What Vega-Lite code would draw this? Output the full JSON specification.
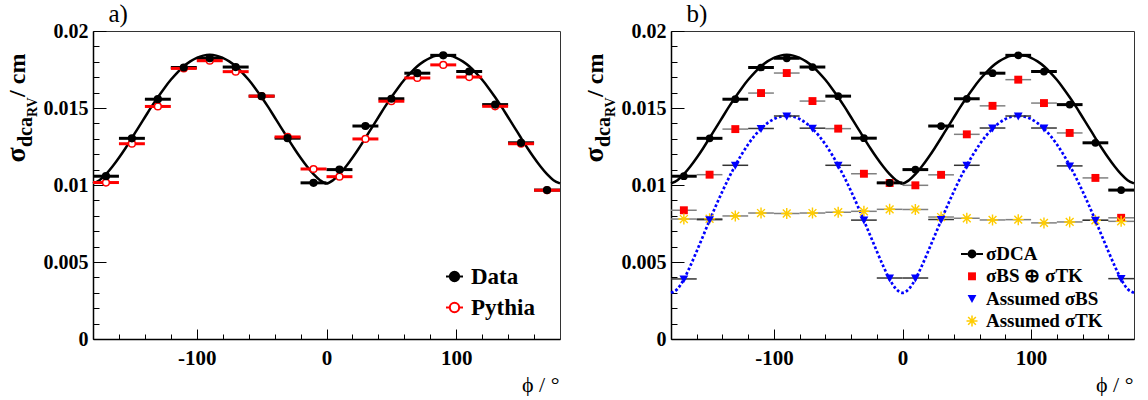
{
  "$schema": "https://vega.github.io/schema/vega-lite/v6.json",
  "padding": {"left": 1, "top": 0, "right": 0, "bottom": 0},
  "spacing": 13,
  "datasets": {
    "dat": [
      {"phi": -170, "lo": -180, "hi": -160, "v": 0.01057},
      {"phi": -150, "lo": -160, "hi": -140, "v": 0.01303},
      {"phi": -130, "lo": -140, "hi": -120, "v": 0.01557},
      {"phi": -110, "lo": -120, "hi": -100, "v": 0.01763},
      {"phi": -90, "lo": -100, "hi": -80, "v": 0.01823},
      {"phi": -70, "lo": -80, "hi": -60, "v": 0.01766},
      {"phi": -50, "lo": -60, "hi": -40, "v": 0.01577},
      {"phi": -30, "lo": -40, "hi": -20, "v": 0.01304},
      {"phi": -10, "lo": -20, "hi": 0, "v": 0.01014},
      {"phi": 10, "lo": 0, "hi": 20, "v": 0.01100},
      {"phi": 30, "lo": 20, "hi": 40, "v": 0.01383},
      {"phi": 50, "lo": 40, "hi": 60, "v": 0.01560},
      {"phi": 70, "lo": 60, "hi": 80, "v": 0.01726},
      {"phi": 90, "lo": 80, "hi": 100, "v": 0.01842},
      {"phi": 110, "lo": 100, "hi": 120, "v": 0.01737},
      {"phi": 130, "lo": 120, "hi": 140, "v": 0.01522},
      {"phi": 150, "lo": 140, "hi": 160, "v": 0.01274},
      {"phi": 170, "lo": 160, "hi": 180, "v": 0.00967}
    ],
    "pyt": [
      {"phi": -170, "lo": -180, "hi": -160, "v": 0.01016},
      {"phi": -150, "lo": -160, "hi": -140, "v": 0.01268},
      {"phi": -130, "lo": -140, "hi": -120, "v": 0.01510},
      {"phi": -110, "lo": -120, "hi": -100, "v": 0.01757},
      {"phi": -90, "lo": -100, "hi": -80, "v": 0.01807},
      {"phi": -70, "lo": -80, "hi": -60, "v": 0.01736},
      {"phi": -50, "lo": -60, "hi": -40, "v": 0.01577},
      {"phi": -30, "lo": -40, "hi": -20, "v": 0.01312},
      {"phi": -10, "lo": -20, "hi": 0, "v": 0.01104},
      {"phi": 10, "lo": 0, "hi": 20, "v": 0.01054},
      {"phi": 30, "lo": 20, "hi": 40, "v": 0.01299},
      {"phi": 50, "lo": 40, "hi": 60, "v": 0.01544},
      {"phi": 70, "lo": 60, "hi": 80, "v": 0.01695},
      {"phi": 90, "lo": 80, "hi": 100, "v": 0.01780},
      {"phi": 110, "lo": 100, "hi": 120, "v": 0.01701},
      {"phi": 130, "lo": 120, "hi": 140, "v": 0.01511},
      {"phi": 150, "lo": 140, "hi": 160, "v": 0.01268},
      {"phi": 170, "lo": 160, "hi": 180, "v": 0.00966}
    ],
    "sum": [
      {"phi": -170, "lo": -180, "hi": -160, "v": 0.00836},
      {"phi": -150, "lo": -160, "hi": -140, "v": 0.01067},
      {"phi": -130, "lo": -140, "hi": -120, "v": 0.01363},
      {"phi": -110, "lo": -120, "hi": -100, "v": 0.01597},
      {"phi": -90, "lo": -100, "hi": -80, "v": 0.01727},
      {"phi": -70, "lo": -80, "hi": -60, "v": 0.01545},
      {"phi": -50, "lo": -60, "hi": -40, "v": 0.01366},
      {"phi": -30, "lo": -40, "hi": -20, "v": 0.01073},
      {"phi": -10, "lo": -20, "hi": 0, "v": 0.01013},
      {"phi": 10, "lo": 0, "hi": 20, "v": 0.00998},
      {"phi": 30, "lo": 20, "hi": 40, "v": 0.01066},
      {"phi": 50, "lo": 40, "hi": 60, "v": 0.01329},
      {"phi": 70, "lo": 60, "hi": 80, "v": 0.01514},
      {"phi": 90, "lo": 80, "hi": 100, "v": 0.01684},
      {"phi": 110, "lo": 100, "hi": 120, "v": 0.01532},
      {"phi": 130, "lo": 120, "hi": 140, "v": 0.01338},
      {"phi": 150, "lo": 140, "hi": 160, "v": 0.01046},
      {"phi": 170, "lo": 160, "hi": 180, "v": 0.00787}
    ],
    "bs": [
      {"phi": -170, "lo": -180, "hi": -160, "v": 0.00390},
      {"phi": -150, "lo": -160, "hi": -140, "v": 0.00775},
      {"phi": -130, "lo": -140, "hi": -120, "v": 0.01128},
      {"phi": -110, "lo": -120, "hi": -100, "v": 0.01367},
      {"phi": -90, "lo": -100, "hi": -80, "v": 0.01448},
      {"phi": -70, "lo": -80, "hi": -60, "v": 0.01369},
      {"phi": -50, "lo": -60, "hi": -40, "v": 0.01128},
      {"phi": -30, "lo": -40, "hi": -20, "v": 0.00772},
      {"phi": -10, "lo": -20, "hi": 0, "v": 0.00396},
      {"phi": 10, "lo": 0, "hi": 20, "v": 0.00396},
      {"phi": 30, "lo": 20, "hi": 40, "v": 0.00776},
      {"phi": 50, "lo": 40, "hi": 60, "v": 0.01128},
      {"phi": 70, "lo": 60, "hi": 80, "v": 0.01370},
      {"phi": 90, "lo": 80, "hi": 100, "v": 0.01448},
      {"phi": 110, "lo": 100, "hi": 120, "v": 0.01370},
      {"phi": 130, "lo": 120, "hi": 140, "v": 0.01124},
      {"phi": 150, "lo": 140, "hi": 160, "v": 0.00771},
      {"phi": 170, "lo": 160, "hi": 180, "v": 0.00392}
    ],
    "tk": [
      {"phi": -170, "lo": -180, "hi": -160, "v": 0.00779},
      {"phi": -150, "lo": -160, "hi": -140, "v": 0.00781},
      {"phi": -130, "lo": -140, "hi": -120, "v": 0.00799},
      {"phi": -110, "lo": -120, "hi": -100, "v": 0.00818},
      {"phi": -90, "lo": -100, "hi": -80, "v": 0.00815},
      {"phi": -70, "lo": -80, "hi": -60, "v": 0.00818},
      {"phi": -50, "lo": -60, "hi": -40, "v": 0.00823},
      {"phi": -30, "lo": -40, "hi": -20, "v": 0.00829},
      {"phi": -10, "lo": -20, "hi": 0, "v": 0.00842},
      {"phi": 10, "lo": 0, "hi": 20, "v": 0.00841},
      {"phi": 30, "lo": 20, "hi": 40, "v": 0.00792},
      {"phi": 50, "lo": 40, "hi": 60, "v": 0.00784},
      {"phi": 70, "lo": 60, "hi": 80, "v": 0.00773},
      {"phi": 90, "lo": 80, "hi": 100, "v": 0.00775},
      {"phi": 110, "lo": 100, "hi": 120, "v": 0.00754},
      {"phi": 130, "lo": 120, "hi": 140, "v": 0.00760},
      {"phi": 150, "lo": 140, "hi": 160, "v": 0.00771},
      {"phi": 170, "lo": 160, "hi": 180, "v": 0.00764}
    ],
    "fits": [
      {"phi": -180, "f": 0.0101, "b": 0.003},
      {"phi": -175, "f": 0.01031, "b": 0.003245},
      {"phi": -170, "f": 0.0107, "b": 0.003881},
      {"phi": -165, "f": 0.0112, "b": 0.00474},
      {"phi": -160, "f": 0.01177, "b": 0.005703},
      {"phi": -155, "f": 0.01239, "b": 0.006702},
      {"phi": -150, "f": 0.01305, "b": 0.007699},
      {"phi": -145, "f": 0.01373, "b": 0.008669},
      {"phi": -140, "f": 0.0144, "b": 0.009596},
      {"phi": -135, "f": 0.01507, "b": 0.010466},
      {"phi": -130, "f": 0.0157, "b": 0.011269},
      {"phi": -125, "f": 0.01629, "b": 0.011997},
      {"phi": -120, "f": 0.01683, "b": 0.012641},
      {"phi": -115, "f": 0.0173, "b": 0.013197},
      {"phi": -110, "f": 0.01771, "b": 0.013658},
      {"phi": -105, "f": 0.01803, "b": 0.014022},
      {"phi": -100, "f": 0.01826, "b": 0.014283},
      {"phi": -95, "f": 0.0184, "b": 0.014441},
      {"phi": -90, "f": 0.01845, "b": 0.014494},
      {"phi": -85, "f": 0.0184, "b": 0.014441},
      {"phi": -80, "f": 0.01826, "b": 0.014283},
      {"phi": -75, "f": 0.01803, "b": 0.014022},
      {"phi": -70, "f": 0.01771, "b": 0.013658},
      {"phi": -65, "f": 0.0173, "b": 0.013197},
      {"phi": -60, "f": 0.01683, "b": 0.012641},
      {"phi": -55, "f": 0.01629, "b": 0.011997},
      {"phi": -50, "f": 0.0157, "b": 0.011269},
      {"phi": -45, "f": 0.01507, "b": 0.010466},
      {"phi": -40, "f": 0.0144, "b": 0.009596},
      {"phi": -35, "f": 0.01373, "b": 0.008669},
      {"phi": -30, "f": 0.01305, "b": 0.007699},
      {"phi": -25, "f": 0.01239, "b": 0.006702},
      {"phi": -20, "f": 0.01177, "b": 0.005703},
      {"phi": -15, "f": 0.0112, "b": 0.00474},
      {"phi": -10, "f": 0.0107, "b": 0.003881},
      {"phi": -5, "f": 0.01031, "b": 0.003245},
      {"phi": 0, "f": 0.0101, "b": 0.003},
      {"phi": 5, "f": 0.01031, "b": 0.003245},
      {"phi": 10, "f": 0.0107, "b": 0.003881},
      {"phi": 15, "f": 0.0112, "b": 0.00474},
      {"phi": 20, "f": 0.01177, "b": 0.005703},
      {"phi": 25, "f": 0.01239, "b": 0.006702},
      {"phi": 30, "f": 0.01305, "b": 0.007699},
      {"phi": 35, "f": 0.01373, "b": 0.008669},
      {"phi": 40, "f": 0.0144, "b": 0.009596},
      {"phi": 45, "f": 0.01507, "b": 0.010466},
      {"phi": 50, "f": 0.0157, "b": 0.011269},
      {"phi": 55, "f": 0.01629, "b": 0.011997},
      {"phi": 60, "f": 0.01683, "b": 0.012641},
      {"phi": 65, "f": 0.0173, "b": 0.013197},
      {"phi": 70, "f": 0.01771, "b": 0.013658},
      {"phi": 75, "f": 0.01803, "b": 0.014022},
      {"phi": 80, "f": 0.01826, "b": 0.014283},
      {"phi": 85, "f": 0.0184, "b": 0.014441},
      {"phi": 90, "f": 0.01845, "b": 0.014494},
      {"phi": 95, "f": 0.0184, "b": 0.014441},
      {"phi": 100, "f": 0.01826, "b": 0.014283},
      {"phi": 105, "f": 0.01803, "b": 0.014022},
      {"phi": 110, "f": 0.01771, "b": 0.013658},
      {"phi": 115, "f": 0.0173, "b": 0.013197},
      {"phi": 120, "f": 0.01683, "b": 0.012641},
      {"phi": 125, "f": 0.01629, "b": 0.011997},
      {"phi": 130, "f": 0.0157, "b": 0.011269},
      {"phi": 135, "f": 0.01507, "b": 0.010466},
      {"phi": 140, "f": 0.0144, "b": 0.009596},
      {"phi": 145, "f": 0.01373, "b": 0.008669},
      {"phi": 150, "f": 0.01305, "b": 0.007699},
      {"phi": 155, "f": 0.01239, "b": 0.006702},
      {"phi": 160, "f": 0.01177, "b": 0.005703},
      {"phi": 165, "f": 0.0112, "b": 0.00474},
      {"phi": 170, "f": 0.0107, "b": 0.003881},
      {"phi": 175, "f": 0.01031, "b": 0.003245},
      {"phi": 180, "f": 0.0101, "b": 0.003}
    ]
  },
  "hconcat": [
    {
      "width": 467,
      "height": 308,
      "resolve": {"axis": {"x": "independent", "y": "independent"}},
      "layer": [
        {
          "data": {"name": "fits"},
          "mark": {"type": "line", "color": "black", "strokeWidth": 2.5, "interpolate": "monotone"},
          "encoding": {
            "x": {"field": "phi", "type": "quantitative", "scale": {"domain": [-180, 180], "nice": false, "zero": false},
              "axis": {"orient": "bottom", "values": [-100, 0, 100], "labelExpr": "'' + datum.value", "tickSize": -10,
                "labelPadding": 18, "labelFontSize": 21, "labelFlush": false, "domainWidth": 1.5,
                "title": "ϕ / °", "titleX": 466, "titleY": 52, "titleAlign": "right", "titleBaseline": "alphabetic", "titleAngle": 0, "titleFontSize": 22, "titleFontWeight": "normal"}},
            "y": {"field": "f", "type": "quantitative", "scale": {"domain": [0, 0.02], "nice": false},
              "axis": {"orient": "left", "values": [0, 0.005, 0.01, 0.015, 0.02], "format": "~g", "tickSize": -13,
                "labelPadding": 18, "labelFontSize": 20, "labelFlush": false, "domainWidth": 1.5,
                "title": "σ", "titleX": -69, "titleY": 131, "titleAngle": 270, "titleAlign": "left", "titleBaseline": "alphabetic", "titleFontSize": 28, "titleFontWeight": "bold"}}
          }
        },
        {
          "data": {"name": "dat"},
          "mark": {"type": "rule", "color": "black", "strokeWidth": 3},
          "encoding": {
            "x": {"field": "lo", "type": "quantitative",
              "axis": {"orient": "bottom", "values": [-160, -140, -120, -80, -60, -40, -20, 20, 40, 60, 80, 120, 140, 160], "tickSize": -5, "labels": false, "domain": false, "title": null}},
            "x2": {"field": "hi"},
            "y": {"field": "v", "type": "quantitative",
              "axis": {"orient": "left", "labels": false, "ticks": false, "domain": false, "title": "dca", "titleX": -62, "titleY": 115.6, "titleAngle": 270, "titleAlign": "left", "titleBaseline": "alphabetic", "titleFontSize": 20, "titleFontWeight": "bold"}}
          }
        },
        {
          "data": {"name": "pyt"},
          "mark": {"type": "rule", "color": "#ff0000", "strokeWidth": 3},
          "encoding": {
            "x": {"field": "lo", "type": "quantitative", "axis": null},
            "x2": {"field": "hi"},
            "y": {"field": "v", "type": "quantitative",
              "axis": {"orient": "left", "labels": false, "ticks": false, "domain": false, "title": "RV", "titleX": -57, "titleY": 85.6, "titleAngle": 270, "titleAlign": "left", "titleBaseline": "alphabetic", "titleFontSize": 14, "titleFontWeight": "bold"}}
          }
        },
        {
          "data": {"name": "pyt"},
          "mark": {"type": "point", "shape": "circle", "size": 45, "strokeWidth": 1.5, "opacity": 1},
          "encoding": {
            "x": {"field": "phi", "type": "quantitative", "axis": null},
            "y": {"field": "v", "type": "quantitative",
              "axis": {"orient": "left", "labels": false, "ticks": false, "domain": false, "title": " / cm", "titleX": -69, "titleY": 65.4, "titleAngle": 270, "titleAlign": "left", "titleBaseline": "alphabetic", "titleFontSize": 24, "titleFontWeight": "bold"}},
            "fill": {"datum": "Pythia", "scale": {"domain": ["Data", "Pythia"], "range": ["black", "white"]},
              "legend": {"title": null, "orient": "none", "legendX": 350, "legendY": 234, "padding": 0, "rowPadding": 7,
                "labelFont": "Liberation Serif", "labelFontWeight": "bold", "labelFontSize": 23, "labelColor": "black", "labelOffset": 5,
                "symbolSize": 289, "symbolStrokeWidth": 2,
                "symbolType": "M-1,0H-0.55M0.55,0H1M-0.55,0A0.55,0.55 0 1 0 0.55,0A0.55,0.55 0 1 0 -0.55,0Z"}},
            "stroke": {"datum": "Pythia", "scale": {"domain": ["Data", "Pythia"], "range": ["black", "#ff0000"]},
              "legend": {"title": null, "orient": "none", "legendX": 350, "legendY": 234, "padding": 0, "rowPadding": 7,
                "labelFont": "Liberation Serif", "labelFontWeight": "bold", "labelFontSize": 23, "labelColor": "black", "labelOffset": 5,
                "symbolSize": 289, "symbolStrokeWidth": 2,
                "symbolType": "M-1,0H-0.55M0.55,0H1M-0.55,0A0.55,0.55 0 1 0 0.55,0A0.55,0.55 0 1 0 -0.55,0Z"}}
          }
        },
        {
          "data": {"name": "dat"},
          "mark": {"type": "point", "shape": "circle", "size": 45, "strokeWidth": 1.5, "opacity": 1},
          "encoding": {
            "x": {"field": "phi", "type": "quantitative", "axis": null},
            "y": {"field": "v", "type": "quantitative",
              "axis": {"orient": "left", "values": [0.001, 0.002, 0.003, 0.004, 0.006, 0.007, 0.008, 0.009, 0.011, 0.012, 0.013, 0.014, 0.016, 0.017, 0.018, 0.019], "tickSize": -6, "labels": false, "domain": false, "title": "a)", "titleX": 15, "titleY": -10, "titleAngle": 0, "titleAlign": "left", "titleBaseline": "alphabetic", "titleFontSize": 25, "titleFontWeight": "normal"}},
            "fill": {"datum": "Data"},
            "stroke": {"datum": "Data"}
          }
        }
      ]
    },
    {
      "width": 463,
      "height": 308,
      "resolve": {"axis": {"x": "independent", "y": "independent"}},
      "layer": [
        {
          "data": {"name": "fits"},
          "mark": {"type": "line", "color": "black", "strokeWidth": 2.5, "interpolate": "monotone"},
          "encoding": {
            "x": {"field": "phi", "type": "quantitative", "scale": {"domain": [-180, 180], "nice": false, "zero": false},
              "axis": {"orient": "bottom", "values": [-100, 0, 100], "labelExpr": "'' + datum.value", "tickSize": -10,
                "labelPadding": 18, "labelFontSize": 21, "labelFlush": false, "domainWidth": 1.5,
                "title": "ϕ / °", "titleX": 462, "titleY": 52, "titleAlign": "right", "titleBaseline": "alphabetic", "titleAngle": 0, "titleFontSize": 22, "titleFontWeight": "normal"}},
            "y": {"field": "f", "type": "quantitative", "scale": {"domain": [0, 0.02], "nice": false},
              "axis": {"orient": "left", "values": [0, 0.005, 0.01, 0.015, 0.02], "format": "~g", "tickSize": -13,
                "labelPadding": 18, "labelFontSize": 20, "labelFlush": false, "domainWidth": 1.5,
                "title": "σ", "titleX": -69, "titleY": 131, "titleAngle": 270, "titleAlign": "left", "titleBaseline": "alphabetic", "titleFontSize": 28, "titleFontWeight": "bold"}}
          }
        },
        {
          "data": {"name": "fits"},
          "mark": {"type": "line", "color": "#0000ff", "strokeWidth": 2.7, "strokeDash": [2.7, 2.2], "interpolate": "monotone"},
          "encoding": {
            "x": {"field": "phi", "type": "quantitative",
              "axis": {"orient": "bottom", "values": [-160, -140, -120, -80, -60, -40, -20, 20, 40, 60, 80, 120, 140, 160], "tickSize": -5, "labels": false, "domain": false, "title": null}},
            "y": {"field": "b", "type": "quantitative",
              "axis": {"orient": "left", "labels": false, "ticks": false, "domain": false, "title": "dca", "titleX": -62, "titleY": 115.6, "titleAngle": 270, "titleAlign": "left", "titleBaseline": "alphabetic", "titleFontSize": 20, "titleFontWeight": "bold"}}
          }
        },
        {
          "data": {"name": "sum"},
          "mark": {"type": "rule", "color": "#808080", "strokeWidth": 1.5},
          "encoding": {
            "x": {"field": "lo", "type": "quantitative", "axis": null},
            "x2": {"field": "hi"},
            "y": {"field": "v", "type": "quantitative",
              "axis": {"orient": "left", "labels": false, "ticks": false, "domain": false, "title": "RV", "titleX": -57, "titleY": 85.6, "titleAngle": 270, "titleAlign": "left", "titleBaseline": "alphabetic", "titleFontSize": 14, "titleFontWeight": "bold"}}
          }
        },
        {
          "data": {"name": "tk"},
          "mark": {"type": "rule", "color": "#808080", "strokeWidth": 1.5},
          "encoding": {
            "x": {"field": "lo", "type": "quantitative", "axis": null},
            "x2": {"field": "hi"},
            "y": {"field": "v", "type": "quantitative",
              "axis": {"orient": "left", "labels": false, "ticks": false, "domain": false, "title": " / cm", "titleX": -69, "titleY": 65.4, "titleAngle": 270, "titleAlign": "left", "titleBaseline": "alphabetic", "titleFontSize": 24, "titleFontWeight": "bold"}}
          }
        },
        {
          "data": {"name": "bs"},
          "mark": {"type": "rule", "color": "#333333", "strokeWidth": 1.5},
          "encoding": {
            "x": {"field": "lo", "type": "quantitative", "axis": null},
            "x2": {"field": "hi"},
            "y": {"field": "v", "type": "quantitative",
              "axis": {"orient": "left", "values": [0.001, 0.002, 0.003, 0.004, 0.006, 0.007, 0.008, 0.009, 0.011, 0.012, 0.013, 0.014, 0.016, 0.017, 0.018, 0.019], "tickSize": -6, "labels": false, "domain": false, "title": "b)", "titleX": 15, "titleY": -10, "titleAngle": 0, "titleAlign": "left", "titleBaseline": "alphabetic", "titleFontSize": 25, "titleFontWeight": "normal"}}
          }
        },
        {
          "data": {"name": "dat"},
          "mark": {"type": "rule", "color": "black", "strokeWidth": 3},
          "encoding": {
            "x": {"field": "lo", "type": "quantitative", "axis": null},
            "x2": {"field": "hi"},
            "y": {"field": "v", "type": "quantitative", "axis": null}
          }
        },
        {
          "data": {"name": "sum"},
          "mark": {"type": "point", "filled": true, "size": 484, "opacity": 1},
          "encoding": {
            "x": {"field": "phi", "type": "quantitative", "axis": null},
            "y": {"field": "v", "type": "quantitative", "axis": null},
            "color": {"datum": "σBS ⊕ σTK", "scale": {"domain": ["σDCA", "σBS ⊕ σTK", "Assumed σBS", "Assumed σTK"], "range": ["black", "#ff0000", "#0000ff", "#ffcc00"]},
              "legend": {"title": null, "orient": "none", "legendX": 290, "legendY": 212, "padding": 0, "rowPadding": 1.3,
                "labelFont": "Liberation Serif", "labelFontWeight": "bold", "labelFontSize": 19, "labelColor": "black", "labelOffset": 3,
                "symbolSize": 484, "symbolStrokeWidth": 0}},
            "shape": {"datum": "σBS ⊕ σTK", "scale": {"domain": ["σDCA", "σBS ⊕ σTK", "Assumed σBS", "Assumed σTK"],
                "range": [
                  "M-1,-0.09H-0.4V0.09H-1ZM0.4,-0.09H1V0.09H0.4ZM-0.4,0A0.4,0.4 0 1 0 0.4,0A0.4,0.4 0 1 0 -0.4,0Z",
                  "M-0.36,-0.36H0.36V0.36H-0.36Z",
                  "M-0.4,-0.32H0.4L0,0.4Z",
                  "M-0.5,-0.07H0.5V0.07H-0.5ZM-0.07,-0.5H0.07V0.5H-0.07ZM-0.3,-0.4L0.4,0.3L0.3,0.4L-0.4,-0.3ZM-0.4,0.3L0.3,-0.4L0.4,-0.3L-0.3,0.4Z"]},
              "legend": {"title": null, "orient": "none", "legendX": 290, "legendY": 212, "padding": 0, "rowPadding": 1.3,
                "labelFont": "Liberation Serif", "labelFontWeight": "bold", "labelFontSize": 19, "labelColor": "black", "labelOffset": 3,
                "symbolSize": 484, "symbolStrokeWidth": 0}}
          }
        },
        {
          "data": {"name": "tk"},
          "mark": {"type": "point", "filled": true, "size": 121, "opacity": 1,
            "shape": "M-1,-0.13H1V0.13H-1ZM-0.13,-1H0.13V1H-0.13ZM-0.62,-0.8L0.8,0.62L0.62,0.8L-0.8,-0.62ZM-0.8,0.62L0.62,-0.8L0.8,-0.62L-0.62,0.8Z"},
          "encoding": {
            "x": {"field": "phi", "type": "quantitative", "axis": null},
            "y": {"field": "v", "type": "quantitative", "axis": null},
            "color": {"datum": "Assumed σTK"}
          }
        },
        {
          "data": {"name": "bs"},
          "mark": {"type": "point", "filled": true, "size": 484, "opacity": 1},
          "encoding": {
            "x": {"field": "phi", "type": "quantitative", "axis": null},
            "y": {"field": "v", "type": "quantitative", "axis": null},
            "color": {"datum": "Assumed σBS"},
            "shape": {"datum": "Assumed σBS"}
          }
        },
        {
          "data": {"name": "dat"},
          "mark": {"type": "point", "filled": true, "size": 60, "opacity": 1, "shape": "circle"},
          "encoding": {
            "x": {"field": "phi", "type": "quantitative", "axis": null},
            "y": {"field": "v", "type": "quantitative", "axis": null},
            "color": {"datum": "σDCA"}
          }
        }
      ]
    }
  ],
  "resolve": {
    "scale": {"color": "independent", "fill": "independent", "stroke": "independent", "shape": "independent"},
    "legend": {"color": "independent", "fill": "independent", "stroke": "independent", "shape": "independent"}
  },
  "config": {
    "font": "Liberation Serif",
    "view": {"stroke": "#333333", "strokeWidth": 1},
    "axis": {"grid": false, "labelOverlap": false, "labelFont": "Liberation Serif", "labelFontWeight": "bold", "labelColor": "black", "titleFont": "Liberation Serif", "titleColor": "black", "tickColor": "black", "tickWidth": 1, "domainColor": "black"}
  }
}
